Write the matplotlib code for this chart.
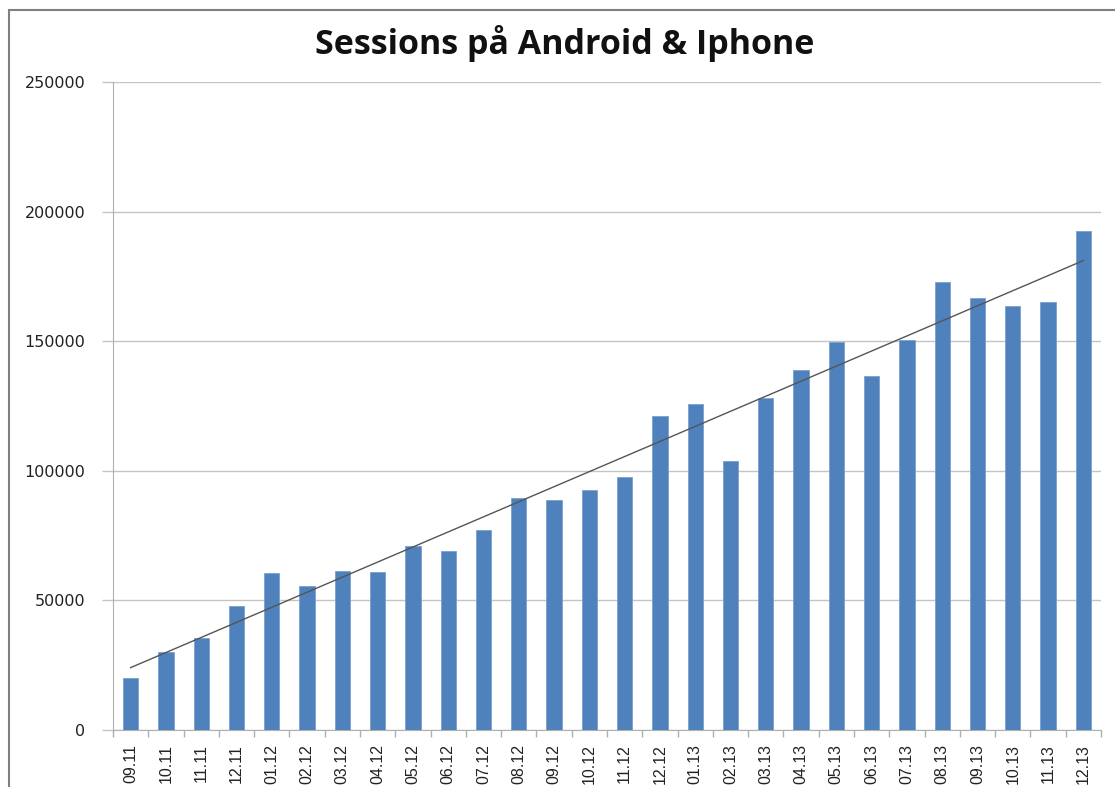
import numpy as np
import matplotlib
matplotlib.use("Agg")
import matplotlib.pyplot as plt
from matplotlib.patches import Rectangle

months = ["09.11", "10.11", "11.11", "12.11", "01.12", "02.12", "03.12", "04.12",
          "05.12", "06.12", "07.12", "08.12", "09.12", "10.12", "11.12", "12.12",
          "01.13", "02.13", "03.13", "04.13", "05.13", "06.13", "07.13", "08.13",
          "09.13", "10.13", "11.13", "12.13"]
sessions = [20000, 30000, 35500, 48000, 60500, 55500, 61500, 61000,
            71000, 69000, 77000, 89500, 88700, 92600, 97600, 121100,
            125800, 103800, 128100, 138900, 149700, 136600, 150500, 172800,
            166700, 163600, 165100, 192500]
yticks = [0, 50000, 100000, 150000, 200000, 250000]
title = "Sessions på Android & Iphone"

fig = plt.figure(figsize=(11.15, 7.87), dpi=100)
ax = fig.add_axes([113/1115, 1 - 730/787, (1101-113)/1115, (730-82)/787])

x = np.arange(len(months))
ax.bar(x, sessions, width=0.43, color="#4F81BD", edgecolor="#7aa0cf", linewidth=0.6, zorder=3)

coef = np.polyfit(x, sessions, 1)
ax.plot(x, np.polyval(coef, x), color="#555555", linewidth=1.0, zorder=4)

ax.set_xlim(-0.5, len(months) - 0.5)
ax.set_ylim(0, 250000)
ax.set_yticks(yticks)
ax.set_yticklabels([str(v) for v in yticks], fontsize=11.5, family="DejaVu Sans", color="#222222")
ax.yaxis.grid(True, color="#c4c4c4", linewidth=1.0, zorder=0)
ax.set_axisbelow(True)

ax.set_xticks(x)
ax.set_xticklabels(months, rotation=90, fontsize=11.5, family="Liberation Sans", color="#222222")
ax.tick_params(axis="x", which="major", length=0, pad=10)
ax.set_xticks(np.arange(-0.5, len(months), 1.0), minor=True)
ax.tick_params(axis="x", which="minor", length=5, color="#b0b0b0", width=1)
ax.tick_params(axis="y", length=8, color="#c4c4c4", width=1, pad=12)

for s in ["top", "right"]:
    ax.spines[s].set_visible(False)
ax.spines["left"].set_color("#b0b0b0")
ax.spines["bottom"].set_color("#b0b0b0")

fig.text(565/1115, 1 - 43/787, title, ha="center", va="center",
         fontsize=24.5, fontweight="bold", family="Open Sans", color="#111111")

fig.patches.append(Rectangle((9/1115, -0.1), 1.2, 1 - 10/787 + 0.1,
                             transform=fig.transFigure, fill=False,
                             edgecolor="#808080", linewidth=1.5, zorder=0))

fig.savefig("out.png", dpi=100)
